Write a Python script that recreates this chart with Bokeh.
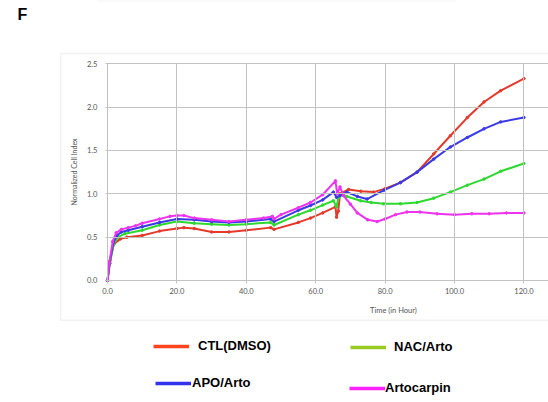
from bokeh.plotting import figure
from bokeh.models import (Range1d, Label, Legend, LegendItem, BoxAnnotation, LinearAxis,
                          PrintfTickFormatter, FixedTicker, ColumnDataSource)
from bokeh.embed import file_html
from bokeh.resources import INLINE

# ---- data ----
ctl_t = [0, 0.7, 1.8, 3.7, 5.6, 10, 15, 20, 22, 25, 30, 35, 40, 47, 48, 55, 58.5, 62, 65.7,
         66.0, 66.5, 67, 69.5, 73, 76.7, 80, 84.4, 89.2, 94, 98.8, 103.7, 108.5, 113.3, 120]
ctl_v = [0, 0.23, 0.42, 0.48, 0.50, 0.52, 0.57, 0.60, 0.61, 0.60, 0.56, 0.56, 0.58, 0.61, 0.59,
         0.67, 0.72, 0.78, 0.85, 0.73, 0.80, 1.00, 1.05, 1.03, 1.02, 1.06, 1.13, 1.25, 1.46,
         1.67, 1.88, 2.06, 2.19, 2.33]

apo_t = [0, 0.6, 1.7, 2.7, 4, 6, 10, 15, 20, 25, 30, 35, 40, 47, 48, 55, 58.5, 62, 65.1,
         66, 67, 69, 72, 74.8, 79.6, 84.4, 89.2, 94, 98.8, 103.7, 108.5, 113.3, 120]
apo_v = [0, 0.2, 0.44, 0.52, 0.56, 0.58, 0.62, 0.67, 0.71, 0.70, 0.68, 0.67, 0.68, 0.71, 0.68,
         0.81, 0.865, 0.93, 1.02, 0.96, 0.98, 1.02, 0.97, 0.94, 1.04, 1.13, 1.25, 1.40, 1.54,
         1.65, 1.75, 1.83, 1.88]

nac_t = [0, 0.7, 1.8, 3, 5, 10, 15, 20, 25, 30, 35, 40, 47, 48, 55, 58.5, 62, 65.1,
         66, 66.5, 67.5, 69, 72.9, 76, 79.6, 84.4, 89.2, 94, 98.8, 103.7, 108.5, 113.3, 120]
nac_v = [0, 0.2, 0.42, 0.50, 0.54, 0.58, 0.64, 0.68, 0.66, 0.65, 0.64, 0.65, 0.67, 0.64,
         0.76, 0.81, 0.87, 0.92, 0.85, 0.95, 0.99, 0.97, 0.92, 0.90, 0.885, 0.885, 0.90, 0.95,
         1.02, 1.10, 1.17, 1.26, 1.35]

art_t = [0, 0.5, 1.5, 2.5, 4, 6, 8, 10, 15, 18, 20, 22, 25, 30, 35, 40, 45, 47.5, 48, 50,
         55, 58.5, 62, 65.7, 66.2, 67, 68, 70, 72, 75, 77.7, 80, 83, 86.3, 90, 95, 100, 105,
         110, 115, 120]
art_v = [0, 0.2, 0.45, 0.55, 0.59, 0.61, 0.63, 0.66, 0.71, 0.74, 0.75, 0.75, 0.72, 0.70, 0.68,
         0.70, 0.72, 0.74, 0.71, 0.76, 0.84, 0.90, 0.99, 1.15, 1.00, 1.08, 0.98, 0.88, 0.78,
         0.70, 0.68, 0.71, 0.76, 0.79, 0.79, 0.77, 0.76, 0.77, 0.77, 0.78, 0.78]

series_names = ["CTL(DMSO)", "NAC/Arto", "APO/Arto", "Artocarpin"]
x_ticks = [0, 20, 40, 60, 80, 100, 120]
y_ticks = [0.0, 0.5, 1.0, 1.5, 2.0, 2.5]

W, H = 548, 402
p = figure(width=W, height=H, output_backend="svg", toolbar_location=None,
           x_range=Range1d(-30.84, 127.09), y_range=Range1d(-1.4077, 3.2307),
           x_axis_location=None, y_axis_location=None,
           min_border_left=0, min_border_right=0, min_border_top=0, min_border_bottom=0)
p.outline_line_color = None
p.background_fill_color = "white"
p.border_fill_color = "white"
p.grid.grid_line_color = None

grid_col = "#c2c2c2"
tick_col = "#555555"

# outer chart box and the edge of the panel above
p.add_layout(BoxAnnotation(left=-13.5, right=140, top=2.62, bottom=-0.46,
                           fill_color=None, line_color="#cfcfcf", line_width=1.5,
                           level="underlay"))
p.add_layout(BoxAnnotation(left=-2.9, right=100.3, top=3.2307, bottom=3.222,
                           fill_color="#c8c8c8", line_color=None, level="underlay"))

# y axis (ticks drawn across the plot act as the horizontal grid)
yax = LinearAxis(fixed_location=-0.6, bounds=(0, 2.5), ticker=FixedTicker(ticks=y_ticks),
                 formatter=PrintfTickFormatter(format="%.1f"))
yax.axis_line_color = None
yax.major_tick_in = 443
yax.major_tick_out = 0
yax.major_tick_line_color = grid_col
yax.minor_tick_line_color = None
yax.major_label_standoff = 8
yax.major_label_text_font = "Lato"
yax.major_label_text_font_size = "7.5px"
yax.major_label_text_color = tick_col
yax.axis_label = "Normalized Cell Index"
yax.axis_label_text_font = "Lato"
yax.axis_label_text_font_size = "7px"
yax.axis_label_text_font_style = "normal"
yax.axis_label_text_color = tick_col
yax.axis_label_standoff = 6
p.add_layout(yax, "left")

# x axis (ticks drawn upward act as the vertical grid)
xax = LinearAxis(fixed_location=0, bounds=(-0.6, 127.09), ticker=FixedTicker(ticks=x_ticks),
                 formatter=PrintfTickFormatter(format="%.1f"))
xax.axis_line_color = "#b5b5b5"
xax.major_tick_in = 217
xax.major_tick_out = 3
xax.major_tick_line_color = grid_col
xax.minor_tick_line_color = None
xax.major_label_standoff = 5
xax.major_label_text_font = "Lato"
xax.major_label_text_font_size = "7.5px"
xax.major_label_text_color = tick_col
p.add_layout(xax, "below")

data_cols = ["#e53a2b", "#2fd82f", "#3a3ae6", "#ee33ee"]
for t, v, c in [(ctl_t, ctl_v, data_cols[0]), (nac_t, nac_v, data_cols[1]),
                (apo_t, apo_v, data_cols[2]), (art_t, art_v, data_cols[3])]:
    src = ColumnDataSource(dict(t=t, v=v))
    p.line("t", "v", source=src, line_color=c, line_width=2)
    p.scatter("t", "v", source=src, size=2.5, color=c)

p.add_layout(Label(x=82.4, y=-0.35, text="Time (in Hour)", text_align="center",
                   text_baseline="middle", text_font="Lato", text_font_size="7.5px",
                   text_color=tick_col))
p.add_layout(Label(x=-24.5, y=3.07, text="F", text_align="center", text_baseline="middle",
                   text_font="Liberation Sans", text_font_size="16px",
                   text_font_style="bold", text_color="black"))

# legend (one small legend per entry, placed below the chart box)
nan = float("nan")
leg_cols = ["#ff4420", "#99cc22", "#3333ee", "#ff22ff"]
leg_pos = [(153, 49), (350, 48), (155, 12), (349, 7)]
leg_stand = [9, 8, 1, 0]
for name, c, pos, st in zip(series_names, leg_cols, leg_pos, leg_stand):
    r = p.line([nan, nan], [nan, nan], line_color=c, line_width=3.5)
    lg = Legend(items=[LegendItem(label=name, renderers=[r])], location=pos,
                margin=0, padding=0, border_line_color=None, background_fill_alpha=0,
                glyph_width=36, glyph_height=14, label_height=14, label_standoff=st,
                label_text_font="Liberation Sans", label_text_font_size="13px",
                label_text_font_style="bold", label_text_color="black")
    p.add_layout(lg, "center")

open("out.html", "w").write(file_html(p, INLINE))
